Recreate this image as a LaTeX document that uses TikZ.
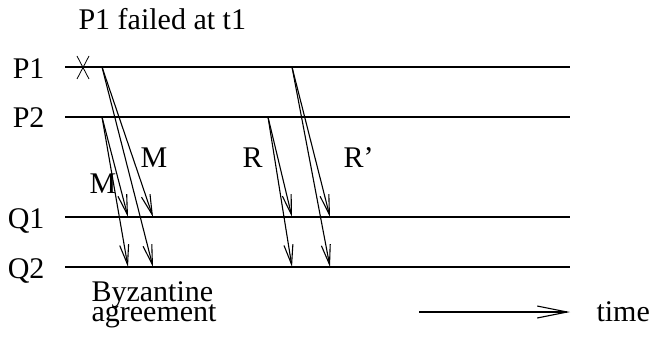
\documentclass[tikz,border=0pt]{standalone}
\usepackage{fontspec}
\setmainfont{Liberation Serif}
\usetikzlibrary{arrows.meta}
\tikzset{
  txt/.style={inner sep=0pt,anchor=base west},
  msg/.style={-{Straight Barb[length=20pt,width=9pt]}},
}
\begin{document}
\begin{tikzpicture}[x=1pt,y=-1pt,line width=1.1pt,font=\fontsize{30}{30}\selectfont]
\useasboundingbox (0,0) rectangle (651,337);
% process lines
\foreach \n/\y in {P1/67,P2/117,Q1/217,Q2/267}{
  \node[inner sep=0pt,anchor=base east] (l\n) at (45,\y+11) {\n};
  \coordinate (\n-w) at (65,\y);
  \coordinate (\n-e) at (570,\y);
  \draw (\n-w) -- (\n-e);
}
\node[txt] (fail) at (78,30) {P1 failed at t1};
\coordinate (crash) at (83,67);
\draw[line width=0.8pt] (crash) +(-6,-11) -- +(6,12)
  (crash) +(6,-11) -- +(-6,12);
% senders
\coordinate (m1) at (102,67);
\coordinate (m2) at (102,117);
\coordinate (r1) at (268,117);
\coordinate (r2) at (292,67);
\foreach \s/\x in {m1/153,m2/128,r1/292,r2/330}{
  \coordinate (\s-q1) at (\x,217);
  \coordinate (\s-q2) at (\x,267);
  \draw[msg] (\s) -- (\s-q1);
  \draw[msg] (\s) -- (\s-q2);
}
\node[txt] (lm1) at (140,167) {M};
\node[txt] (lm2) at (89,193) {M};
\node[txt] (lr1) at (242,167) {R};
\node[txt] (lr2) at (343,167) {R'};
% time axis
\node[inner sep=0pt,anchor=north west,align=left] (byz) at (91,281)
  {Byzantine\\[-10pt]agreement};
\coordinate (t0) at (419,312);
\coordinate (t1) at (570,312);
\draw[-{Straight Barb[length=30pt,width=12pt]}] (t0) -- (t1);
\node[txt] (time) at (596,321) {time};
\end{tikzpicture}
\end{document}
